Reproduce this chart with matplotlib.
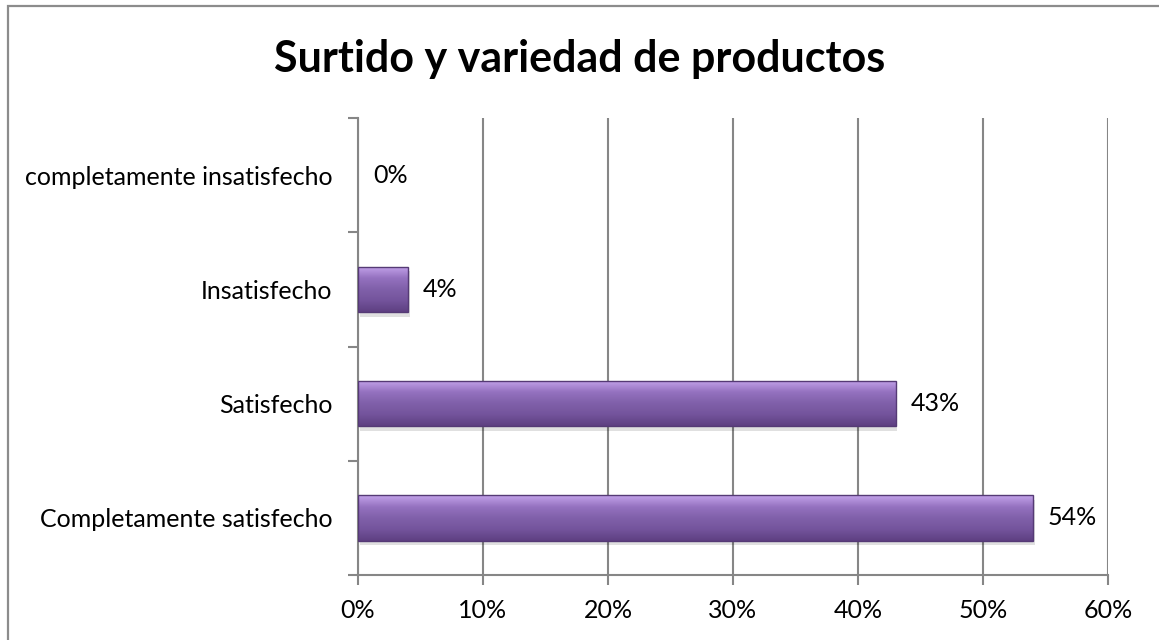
import numpy as np
import matplotlib.pyplot as plt
from matplotlib.patches import Rectangle
from matplotlib.colors import LinearSegmentedColormap

categorias = ["Completamente satisfecho", "Satisfecho", "Insatisfecho",
              "completamente insatisfecho"]
porcentajes = [54, 43, 4, 0]
ticks_x = [0, 10, 20, 30, 40, 50, 60]

plt.rcParams['font.family'] = ['Lato', 'DejaVu Sans']

fig = plt.figure(figsize=(11.59, 6.40), dpi=100)

# marco exterior del grafico
fig.patches.append(Rectangle((8 / 1159, -0.05), 1.2, 1 - 6 / 640 + 0.05,
                             transform=fig.transFigure, fill=False,
                             edgecolor="#8c8c8c", linewidth=1.6))

ax = fig.add_axes([358 / 1159, 1 - 575 / 640, 750 / 1159, 457 / 640])

y = np.arange(len(categorias))
alto = 0.4
barras = ax.barh(y, porcentajes, height=alto, color="#7b56a3",
                 edgecolor="none", linewidth=0, zorder=3)

# degradado vertical para dar volumen a las barras
cmap = LinearSegmentedColormap.from_list(
    "morado", ["#c3a3ea", "#9572c0", "#8060aa", "#74549c", "#5e4082"])
grad = np.linspace(0, 1, 64).reshape(-1, 1)
for b, v in zip(barras, porcentajes):
    x0, y0 = b.get_x(), b.get_y()
    h = b.get_height()
    ax.text(v + 1.2, y0 + h / 2, f"{v}%", va="center", ha="left",
            fontsize=18, color="#000000", zorder=5)
    if v <= 0:
        continue
    # sombra
    ax.add_patch(Rectangle((x0 + 0.15, y0 - 0.04), v, h, color="#000000",
                           alpha=0.12, linewidth=0, zorder=2))
    im = ax.imshow(grad, cmap=cmap, aspect="auto",
                   extent=(x0, x0 + v, y0, y0 + h), zorder=3.5,
                   interpolation="bilinear", origin="upper")
    im.set_clip_path(b)
    ax.add_patch(Rectangle((x0, y0), v, h, fill=False, edgecolor="#553a75",
                           linewidth=1.0, zorder=4))

ax.set_xlim(0, 60)
ax.set_ylim(-0.5, len(categorias) - 0.5)
ax.set_xticks(ticks_x)
ax.set_xticklabels([f"{t}%" for t in ticks_x], fontsize=18)
ax.set_yticks(y)
ax.set_yticklabels(categorias, fontsize=18)
ax.tick_params(axis="y", length=0, pad=18.5)
ax.tick_params(axis="x", length=7, color="#868686", width=1.5, pad=10)

# marcas del eje y entre categorias
ax.set_yticks(np.arange(-0.5, len(categorias), 1), minor=True)
ax.tick_params(axis="y", which="minor", length=7, color="#868686", width=1.5)

ax.grid(axis="x", color="#868686", linewidth=1.5, zorder=0)
ax.set_axisbelow(True)
for s in ["top", "right"]:
    ax.spines[s].set_visible(False)
for s in ["left", "bottom"]:
    ax.spines[s].set_color("#868686")
    ax.spines[s].set_linewidth(1.5)

fig.text(580 / 1159, 1 - 72 / 640, "Surtido y variedad de productos",
         ha="center", va="baseline", fontsize=31, fontweight="bold")

fig.savefig("out.png", dpi=100)
